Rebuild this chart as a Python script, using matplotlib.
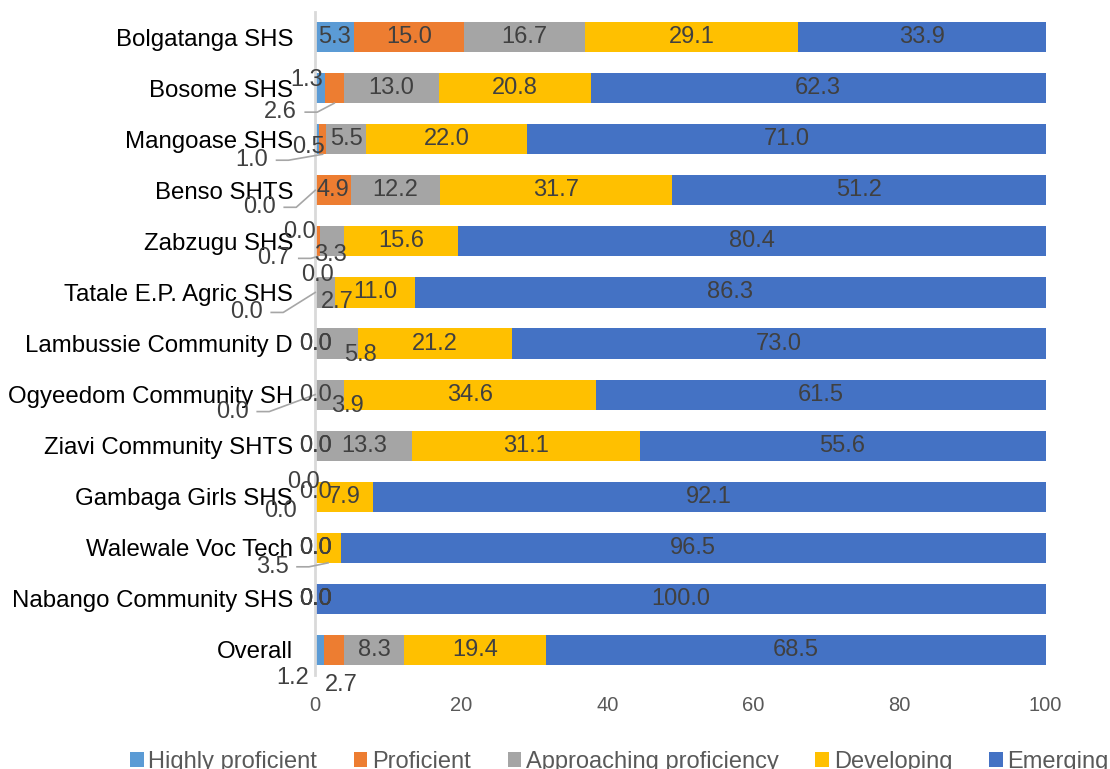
import matplotlib.pyplot as plt
import numpy as np
from matplotlib.patches import Patch

plt.rcParams['font.family'] = ['Liberation Sans', 'DejaVu Sans']

schools = ['Bolgatanga SHS', 'Bosome SHS', 'Mangoase SHS', 'Benso SHTS', 'Zabzugu SHS',
           'Tatale E.P. Agric SHS', 'Lambussie Community D', 'Ogyeedom Community SH',
           'Ziavi Community SHTS', 'Gambaga Girls SHS', 'Walewale Voc Tech',
           'Nabango Community SHS', 'Overall']
highly = [5.3, 1.3, 0.5, 0.0, 0.0, 0.0, 0.0, 0.0, 0.0, 0.0, 0.0, 0.0, 1.2]
proficient = [15.0, 2.6, 1.0, 4.9, 0.7, 0.0, 0.0, 0.0, 0.0, 0.0, 0.0, 0.0, 2.7]
approaching = [16.7, 13.0, 5.5, 12.2, 3.3, 2.7, 5.8, 3.9, 13.3, 0.0, 0.0, 0.0, 8.3]
developing = [29.1, 20.8, 22.0, 31.7, 15.6, 11.0, 21.2, 34.6, 31.1, 7.9, 3.5, 0.0, 19.4]
emerging = [33.9, 62.3, 71.0, 51.2, 80.4, 86.3, 73.0, 61.5, 55.6, 92.1, 96.5, 100.0, 68.5]

series = ['Highly proficient', 'Proficient', 'Approaching proficiency', 'Developing', 'Emerging']
colors = ['#5B9BD5', '#ED7D31', '#A5A5A5', '#FFC000', '#4472C4']

# data labels that Excel pushed off their segment: (row, series) -> (dx px, dy px down, leader line)
nudges = {
    (1, 0): (-13, -8, False), (1, 1): (-54, 24, True),
    (2, 0): (-9, 8, False), (2, 1): (-71, 21, True),
    (3, 0): (-56, 17, True),
    (4, 0): (-16, -9, False), (4, 1): (-44, 17, True), (4, 2): (-2, 14, False),
    (5, 0): (2, -17, False), (5, 1): (-69, 20, True), (5, 2): (12, 10, False),
    (6, 2): (24, 11, False),
    (7, 1): (-83, 17, True), (7, 2): (18, 11, False),
    (9, 0): (-12, -15, False), (9, 1): (0, -5, False), (9, 2): (-35, 14, False),
    (10, 3): (-56, 19, True),
    (12, 0): (-27, 28, False), (12, 1): (7, 35, False),
}

fig = plt.figure(figsize=(11.1, 7.69), dpi=100)
ax = fig.add_axes([0.284, 0.1216, 0.658, 0.8634])

data = np.array([highly, proficient, approaching, developing, emerging])
y = np.arange(len(schools))
bar_h = 0.59
left = np.zeros(len(schools))
for k in range(len(series)):
    ax.barh(y, data[k], left=left, height=bar_h, color=colors[k], label=series[k], linewidth=0)
    left = left + data[k]

ax.set_xlim(0, 100)
ax.set_ylim(len(schools) - 0.5, -0.5)

bb = ax.get_position()
px_x = bb.width * fig.get_figwidth() * fig.dpi / 100.0
px_y = bb.height * fig.get_figheight() * fig.dpi / len(schools)

lab_color = '#404040'
starts = np.zeros(len(schools))
for k in range(len(series)):
    for i in range(len(schools)):
        v = data[k][i]
        cx = starts[i] + v / 2
        tx, ty = cx, y[i]
        if (i, k) in nudges:
            dx, dy, leader = nudges[(i, k)]
            tx = cx + dx / px_x
            ty = y[i] + dy / px_y
            if leader:
                x0 = tx + 25 / px_x
                x1 = x0 + 12 / px_x
                yend = y[i] if v == 0 else y[i] + bar_h / 2
                ax.plot([x0, x1, cx], [ty, ty, yend], color='#A6A6A6', lw=1.2,
                        clip_on=False, zorder=4)
        ax.text(tx, ty, f'{v:.1f}', ha='center', va='center', fontsize=17,
                color=lab_color, zorder=5, clip_on=False)
    starts = starts + data[k]

ax.set_yticks(y)
ax.set_yticklabels(schools, fontsize=17.3, color='black')
ax.set_xticks([0, 20, 40, 60, 80, 100])
ax.tick_params(axis='y', length=0, pad=16)
ax.tick_params(axis='x', length=0, pad=15, labelsize=14.5, labelcolor='#595959')
for s in ['top', 'right', 'bottom']:
    ax.spines[s].set_visible(False)
ax.spines['left'].set_color('#D9D9D9')
ax.spines['left'].set_linewidth(2)

handles = [Patch(facecolor=c, edgecolor='none') for c in colors]
fig.legend(handles, series, loc='center left', bbox_to_anchor=(0.117, 0.009), ncol=5,
           frameon=False, fontsize=17, labelcolor='#595959', handlelength=0.58,
           handleheight=0.58, handletextpad=0.2, columnspacing=1.55, borderpad=0,
           borderaxespad=0)

fig.savefig('out.png', dpi=100)
